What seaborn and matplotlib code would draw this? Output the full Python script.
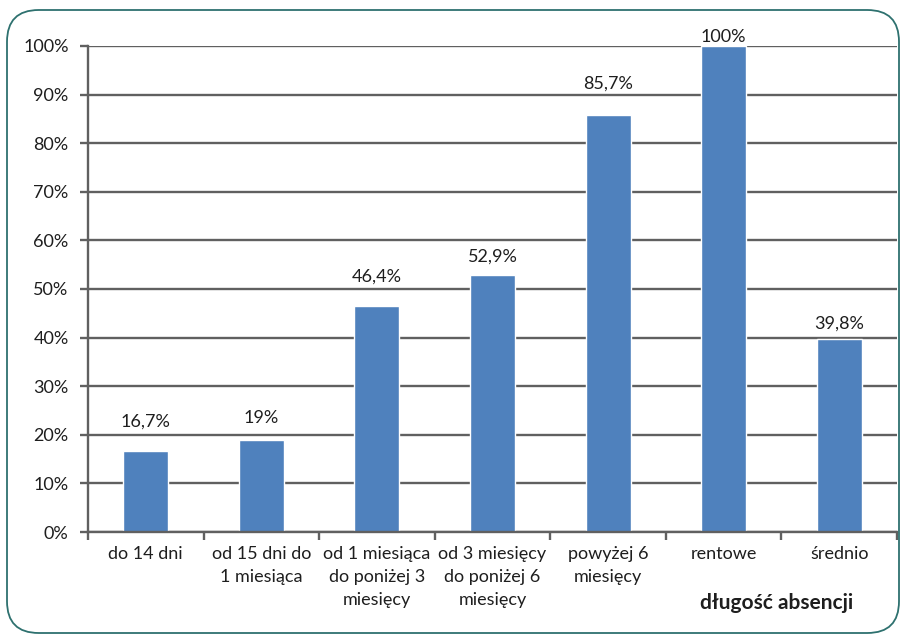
import seaborn as sns
import matplotlib.pyplot as plt
import pandas as pd
import numpy as np
from matplotlib.patches import FancyBboxPatch

categories = ["do 14 dni", "od 15 dni do\n1 miesiąca", "od 1 miesiąca\ndo poniżej 3\nmiesięcy",
              "od 3 miesięcy\ndo poniżej 6\nmiesięcy", "powyżej 6\nmiesięcy", "rentowe", "średnio"]
values = [16.7, 19.0, 46.4, 52.9, 85.7, 100.0, 39.8]
labels = ["16,7%", "19%", "46,4%", "52,9%", "85,7%", "100%", "39,8%"]
# how far above each bar its label sits (percentage points)
label_offsets = [4.3, 2.8, 4.6, 2.2, 5.0, 0.2, 1.4]

df = pd.DataFrame({"kat": categories, "val": values})

sns.set_style("white")
plt.rcParams['font.family'] = ['Lato', 'DejaVu Sans']

fig = plt.figure(figsize=(9.06, 6.36), dpi=100)
ax = fig.add_axes([0.0971, 0.1635, 0.893, 0.7642])

sns.barplot(x="kat", y="val", data=df, color="#4f81bd", width=0.39, saturation=1, ax=ax)

# rounded border
border = FancyBboxPatch((7 / 906, 3 / 636), 892 / 906, 623 / 636,
                        boxstyle="round,pad=0,rounding_size=0.035",
                        transform=fig.transFigure, fill=False,
                        edgecolor="#2e716f", linewidth=1.3, mutation_aspect=906 / 636)
fig.patches.append(border)

ax.set_xlim(-0.5, 6.5)
ax.set_ylim(0, 100)
ax.set_yticks(np.arange(0, 101, 10))
ax.set_yticklabels([f"{v}%" for v in range(0, 101, 10)])
ax.yaxis.grid(True, color="#606060", linewidth=1.7)
ax.set_axisbelow(True)

for s in ["top", "right"]:
    ax.spines[s].set_visible(False)
for s in ["left", "bottom"]:
    ax.spines[s].set_color("#606060")
    ax.spines[s].set_linewidth(1.7)

ax.tick_params(axis="y", length=6, width=1.7, color="#606060", labelsize=13, labelcolor="#1e1e1e", pad=8, left=True)
ax.set_xticks(np.arange(-0.5, 7, 1), minor=True)
ax.tick_params(axis="x", which="minor", length=6, width=1.7, color="#606060", bottom=True)
ax.tick_params(axis="x", which="major", length=0, labelsize=13, labelcolor="#1e1e1e", pad=10)
for t in ax.get_xticklabels():
    t.set_linespacing(1.55)

for i, (v, t, o) in enumerate(zip(values, labels, label_offsets)):
    ax.text(i, v + o, t, ha="center", va="bottom", fontsize=13, color="#1e1e1e")

ax.set_xlabel("")
ax.set_ylabel("")
fig.text(777 / 906, 1 - 603 / 636, "długość absencji", ha="center", va="center",
         fontsize=15, fontweight="bold", color="#1e1e1e")

fig.savefig("out.png", dpi=100)
